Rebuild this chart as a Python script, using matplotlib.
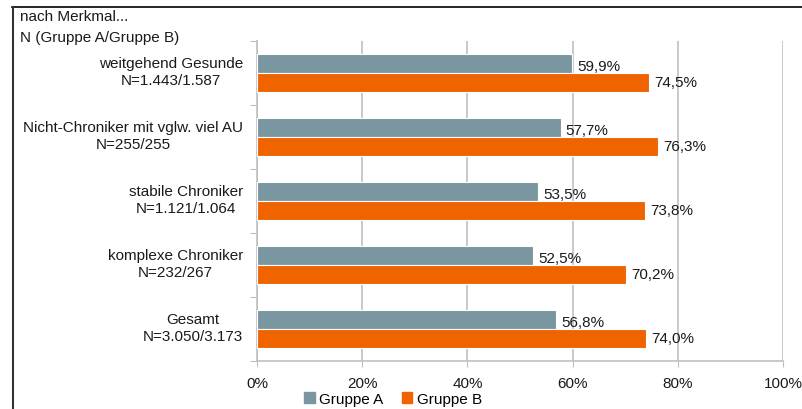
import matplotlib
matplotlib.use("Agg")
from matplotlib import pyplot as plt
from matplotlib import transforms
from matplotlib.lines import Line2D
from matplotlib.patches import Patch

plt.rcParams["font.family"] = ["Liberation Sans", "DejaVu Sans"]

# data
CATEGORIES = [
    "weitgehend Gesunde\nN=1.443/1.587",
    "Nicht-Chroniker mit vglw. viel AU\nN=255/255",
    "stabile Chroniker\nN=1.121/1.064",
    "komplexe Chroniker\nN=232/267",
    "Gesamt\nN=3.050/3.173",
]
GRUPPE_A = [59.9, 57.7, 53.5, 52.5, 56.8]
GRUPPE_B = [74.5, 76.3, 73.8, 70.2, 74.0]
SERIES_NAMES = ["Gruppe A", "Gruppe B"]
X_TICKS = [0, 20, 40, 60, 80, 100]

COLOR_A = "#7A96A0"
COLOR_B = "#F06400"
GRID = "#C0C0C0"
TXT = "#1a1a1a"
FS = 11
W, H = 803, 410


def fmt(v):
    return f"{v:.1f}%".replace(".", ",")


def main():
    fig = plt.figure(figsize=(W / 100, H / 100), dpi=100)
    ax = fig.add_axes([257 / W, 1 - 362 / H, (783 - 257) / W, (362 - 42) / H])

    ypos = list(range(len(CATEGORIES)))
    bar_h = 0.29
    off = 0.148
    ax.barh([y - off for y in ypos], GRUPPE_A, height=bar_h, color=COLOR_A,
            edgecolor="white", linewidth=0.8, zorder=3)
    ax.barh([y + off for y in ypos], GRUPPE_B, height=bar_h, color=COLOR_B,
            edgecolor="white", linewidth=0.8, zorder=3)

    for y, a, b in zip(ypos, GRUPPE_A, GRUPPE_B):
        ax.text(a + 1.0, y - off + 0.04, fmt(a), va="center", ha="left",
                fontsize=FS, color=TXT, zorder=4)
        ax.text(b + 1.0, y + off, fmt(b), va="center", ha="left",
                fontsize=FS, color=TXT, zorder=4)

    ax.set_xlim(0, 100)
    ax.set_ylim(len(CATEGORIES) - 0.5, -0.5)
    ax.set_xticks(X_TICKS)
    ax.set_xticklabels([f"{t}%" for t in X_TICKS], fontsize=FS, color=TXT)
    ax.set_yticks([i - 0.5 for i in range(len(CATEGORIES) + 1)])
    ax.set_yticklabels([])
    ax.tick_params(axis="x", length=4, color=GRID, pad=7)
    ax.tick_params(axis="y", length=5, color=GRID)
    ax.grid(axis="x", color=GRID, linewidth=1.2, zorder=0)

    for side in ["top", "right"]:
        ax.spines[side].set_visible(False)
    for side in ["left", "bottom"]:
        ax.spines[side].set_color(GRID)
        ax.spines[side].set_linewidth(1.2)

    # category labels, right-aligned block, lines centered
    trans = transforms.blended_transform_factory(fig.transFigure, ax.transData)
    for y, label in zip(ypos, CATEGORIES):
        ax.text(243 / W, y - 0.02, label, transform=trans, ha="right",
                va="center", multialignment="center", fontsize=FS,
                color=TXT, linespacing=1.3)

    fig.text(20 / W, 1 - 17 / H, "nach Merkmal...", ha="left", va="center",
             fontsize=FS, color=TXT)
    fig.text(20 / W, 1 - 38 / H, "N (Gruppe A/Gruppe B)", ha="left",
             va="center", fontsize=FS, color=TXT)

    # frame lines
    fig.add_artist(Line2D([12 / W, 802 / W], [1 - 8 / H, 1 - 8 / H],
                          transform=fig.transFigure, color="black", linewidth=1.2))
    fig.add_artist(Line2D([13 / W, 13 / W], [1 - 8 / H, 0],
                          transform=fig.transFigure, color="#333333", linewidth=1.5))

    handles = [Patch(color=COLOR_A), Patch(color=COLOR_B)]
    fig.legend(handles, SERIES_NAMES, loc="center", bbox_to_anchor=(393 / W, 1 - 400 / H),
               ncol=2, frameon=False, fontsize=FS, handlelength=0.7,
               handleheight=0.7, handletextpad=0.3, columnspacing=1.2,
               borderpad=0)

    fig.savefig("out.png", dpi=100)


if __name__ == "__main__":
    main()
